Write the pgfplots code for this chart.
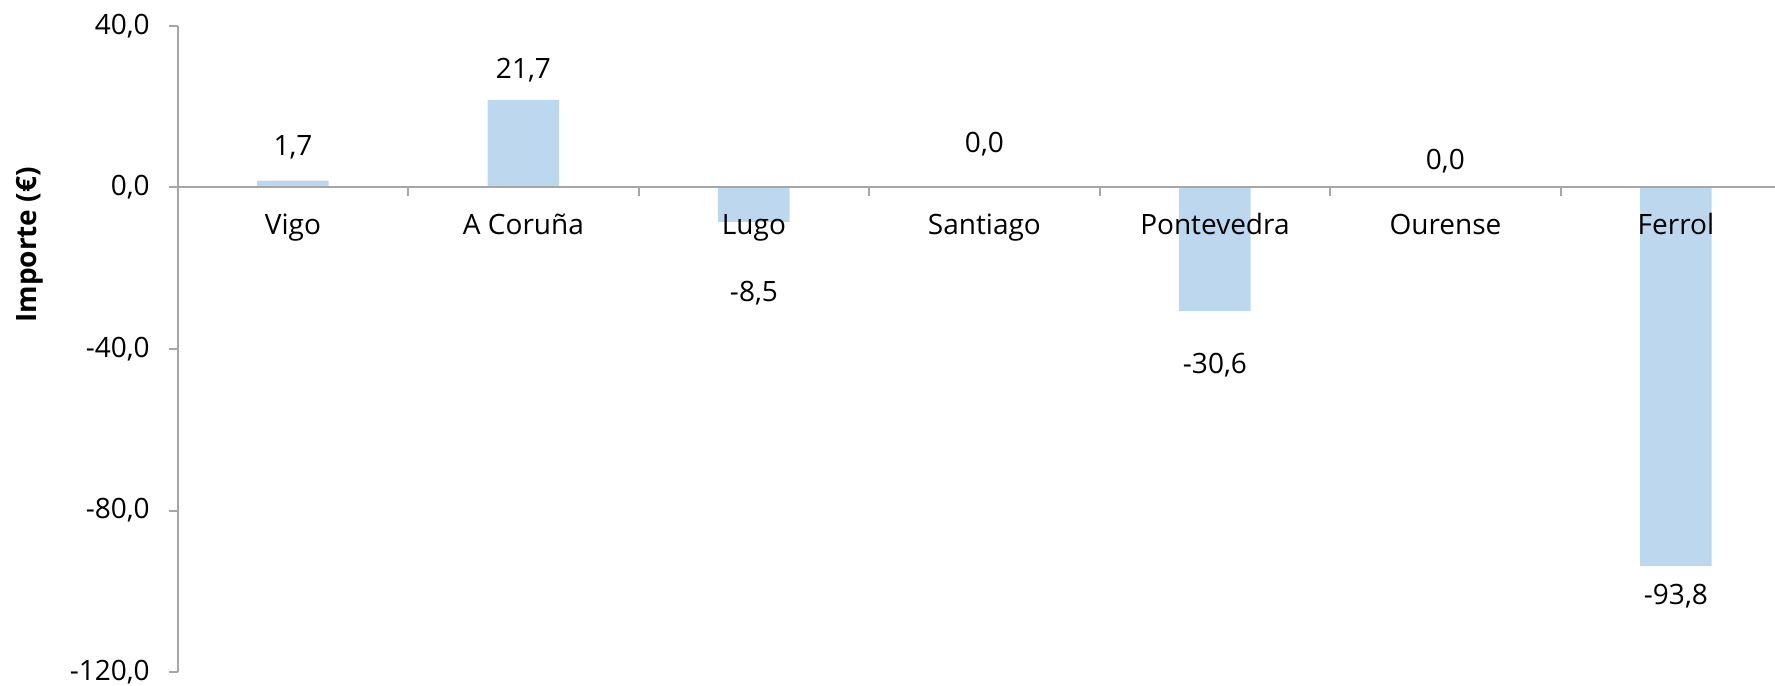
\documentclass[border=0pt]{standalone}
\usepackage{pgfplots}
\pgfplotsset{compat=1.18}
\usepackage{fontspec}
\setmainfont{Open Sans}
\definecolor{barblue}{HTML}{BDD7EE}
\definecolor{axisgray}{HTML}{A6A6A6}
\begin{document}
\begin{tikzpicture}[font=\fontsize{14}{17}\selectfont]
\begin{axis}[
  scale only axis,
  width=798.65pt, height=323pt,
  xmin=-0.5, xmax=6.43,
  ymin=-120, ymax=40,
  axis x line*=middle,
  axis y line*=left,
  axis line style={axisgray, line width=1pt},
  tick style={axisgray, line width=1pt},
  tick align=outside,
  major tick length=4.5pt,
  ytick={-120,-80,-40,0,40},
  yticklabels={{-120,0},{-80,0},{-40,0},{0,0},{40,0}},
  yticklabel style={anchor=east, inner sep=0pt, xshift=-9.3pt},
  xtick={0.5,1.5,...,5.5},
  xticklabels={},
  extra x ticks={0,1,2,3,4,5,6},
  extra x tick labels={Vigo,A Coruña,Lugo,Santiago,Pontevedra,Ourense,Ferrol},
  extra x tick style={major tick length=0pt, xticklabel style={anchor=base, inner sep=0pt, yshift=-23.5pt}},
  ylabel={\bfseries Importe (€)},
  ylabel style={at={(axis description cs:-0.0925,0.661)}, anchor=center, rotate=0},
  axis on top,
  clip=false,
]
\addplot[ybar, bar width=0.31, fill=barblue, draw=none] coordinates {
  (0,1.7) (1,21.7) (2,-8.5) (3,0.0) (4,-30.6) (5,0.0) (6,-93.8)
};
\node at (axis cs:0,9.9) {1,7};
\node at (axis cs:1,29.0) {21,7};
\node at (axis cs:2,-26.2) {-8,5};
\node at (axis cs:3,10.7) {0,0};
\node at (axis cs:4,-43.9) {-30,6};
\node at (axis cs:5,6.5) {0,0};
\node at (axis cs:6,-101.2) {-93,8};
\end{axis}
\pgfresetboundingbox
\path (current axis.south west) ++(-88.85pt,-6.5pt) rectangle ++(887.5pt,342.5pt);
\end{tikzpicture}
\end{document}
